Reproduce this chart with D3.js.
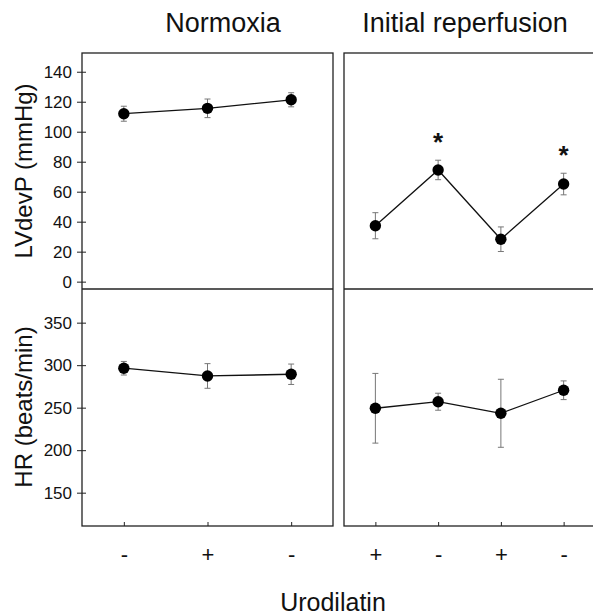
<!DOCTYPE html>
<html>
<head>
<meta charset="utf-8">
<script src="https://cdn.jsdelivr.net/npm/d3@7"></script>
<style>
  body { margin: 0; background: #fff; }
  text { font-family: "Liberation Sans", Arial, sans-serif; fill: #111; }
</style>
</head>
<body>
<svg id="chart"></svg>
<script>
window.onload = function(){
    makeChart();
};

const WIDTH = 593;
const HEIGHT = 616;

// data (mean and SEM)
const panelTitles = ['Normoxia', 'Initial reperfusion'];
const normoxiaUro = ['-', '+', '-'];
const reperfUro = ['+', '-', '+', '-'];

const normoxiaLV = [112.0, 115.6, 121.3];
const normoxiaLVse = [5.0, 6.2, 4.7];
const reperfLV = [37.3, 74.5, 28.3, 65.1];
const reperfLVse = [8.7, 6.5, 8.2, 7.2];
const reperfLVsig = [false, true, false, true];

const normoxiaHR = [296.4, 287.3, 289.3];
const normoxiaHRse = [8.0, 14.5, 12.0];
const reperfHR = [249.3, 257.0, 243.4, 270.5];
const reperfHRse = [41.0, 10.0, 40.0, 11.0];

const lvTicks = [0, 20, 40, 60, 80, 100, 120, 140];
const hrTicks = [150, 200, 250, 300, 350];

function makeChart(){
    const svg = d3.select('#chart')
        .attr('width', WIDTH)
        .attr('height', HEIGHT);

    // panel geometry
    const cols = [[82, 333], [344, 595]];
    const rows = [[53, 289], [289, 526]];

    const xLeft = d3.scaleLinear().domain([0.5, 3.5]).range(cols[0]);
    const xRight = d3.scaleLinear().domain([0.5, 4.5]).range(cols[1]);
    const yLV = d3.scaleLinear().domain([-4.9, 152.5]).range([rows[0][1], rows[0][0]]);
    const yHR = d3.scaleLinear().domain([110.8, 389.6]).range([rows[1][1], rows[1][0]]);

    const panels = [
        {x: xLeft, y: yLV, vals: normoxiaLV, se: normoxiaLVse, sig: null},
        {x: xRight, y: yLV, vals: reperfLV, se: reperfLVse, sig: reperfLVsig},
        {x: xLeft, y: yHR, vals: normoxiaHR, se: normoxiaHRse, sig: null},
        {x: xRight, y: yHR, vals: reperfHR, se: reperfHRse, sig: null}
    ];

    // y axes on the left column only, ticks crossing the frame
    function yAxis(scale, ticks){
        const g = svg.append('g')
            .attr('transform', 'translate(' + cols[0][0] + ',0)')
            .call(d3.axisLeft(scale).tickValues(ticks).tickSize(5).tickPadding(5));
        g.select('.domain').remove();
        g.selectAll('.tick line').attr('stroke', '#222').attr('x2', 4).attr('x1', -5);
        g.selectAll('.tick text').style('font-size', '17px').attr('fill', '#111');
    }
    yAxis(yLV, lvTicks);
    yAxis(yHR, hrTicks);

    // x axes on the bottom row, ticks pointing inward
    function xAxis(scale, labels){
        const g = svg.append('g')
            .attr('transform', 'translate(0,' + rows[1][1] + ')')
            .call(d3.axisBottom(scale)
                .tickValues(d3.range(1, labels.length + 1))
                .tickFormat(d => labels[d - 1])
                .tickSizeInner(-4).tickSizeOuter(0).tickPadding(20));
        g.select('.domain').remove();
        g.selectAll('.tick line').attr('stroke', '#222');
        g.selectAll('.tick text').style('font-size', '22px').attr('fill', '#111');
    }
    xAxis(xLeft, normoxiaUro);
    xAxis(xRight, reperfUro);

    // frames
    cols.forEach(c => {
        svg.append('rect')
            .attr('x', c[0]).attr('y', rows[0][0])
            .attr('width', c[1] - c[0]).attr('height', rows[1][1] - rows[0][0])
            .attr('fill', 'none').attr('stroke', '#222').attr('stroke-width', 1.3);
        svg.append('line')
            .attr('x1', c[0]).attr('x2', c[1])
            .attr('y1', rows[0][1]).attr('y2', rows[0][1])
            .attr('stroke', '#222').attr('stroke-width', 1.3);
    });

    const line = d3.line();

    panels.forEach(p => {
        const g = svg.append('g');
        const pts = p.vals.map((v, i) => [p.x(i + 1), p.y(v)]);

        // error bars
        p.vals.forEach((v, i) => {
            const cx = p.x(i + 1);
            const y0 = p.y(v - p.se[i]);
            const y1 = p.y(v + p.se[i]);
            g.append('line').attr('x1', cx).attr('x2', cx).attr('y1', y0).attr('y2', y1)
                .attr('stroke', '#777').attr('stroke-width', 1);
            [y0, y1].forEach(yy => {
                g.append('line').attr('x1', cx - 3).attr('x2', cx + 3).attr('y1', yy).attr('y2', yy)
                    .attr('stroke', '#777').attr('stroke-width', 1);
            });
        });

        g.append('path')
            .attr('d', line(pts))
            .attr('fill', 'none').attr('stroke', '#111').attr('stroke-width', 1.3);

        g.selectAll('circle')
            .data(pts)
            .enter()
            .append('circle')
            .attr('cx', d => d[0]).attr('cy', d => d[1])
            .attr('r', 5.7)
            .attr('fill', '#000');

        // significance markers above the error bar
        if (p.sig) {
            p.vals.forEach((v, i) => {
                if (!p.sig[i]) return;
                g.append('text')
                    .attr('x', p.x(i + 1))
                    .attr('y', p.y(v + p.se[i]) - 9)
                    .attr('text-anchor', 'middle')
                    .style('font-size', '26px')
                    .style('font-weight', 'bold')
                    .text('*');
            });
        }
    });

    // titles
    svg.append('text').attr('x', 223).attr('y', 32).attr('text-anchor', 'middle')
        .style('font-size', '27px').text(panelTitles[0]);
    svg.append('text').attr('x', 465).attr('y', 32).attr('text-anchor', 'middle')
        .style('font-size', '27px').text(panelTitles[1]);

    // axis titles
    svg.append('text')
        .attr('transform', 'translate(32,171) rotate(-90)')
        .attr('text-anchor', 'middle')
        .style('font-size', '24px')
        .text('LVdevP (mmHg)');
    svg.append('text')
        .attr('transform', 'translate(32,407) rotate(-90)')
        .attr('text-anchor', 'middle')
        .style('font-size', '24px')
        .text('HR (beats/min)');
    svg.append('text')
        .attr('x', 333).attr('y', 611)
        .attr('text-anchor', 'middle')
        .style('font-size', '25px')
        .text('Urodilatin');
}
</script>
</body>
</html>
